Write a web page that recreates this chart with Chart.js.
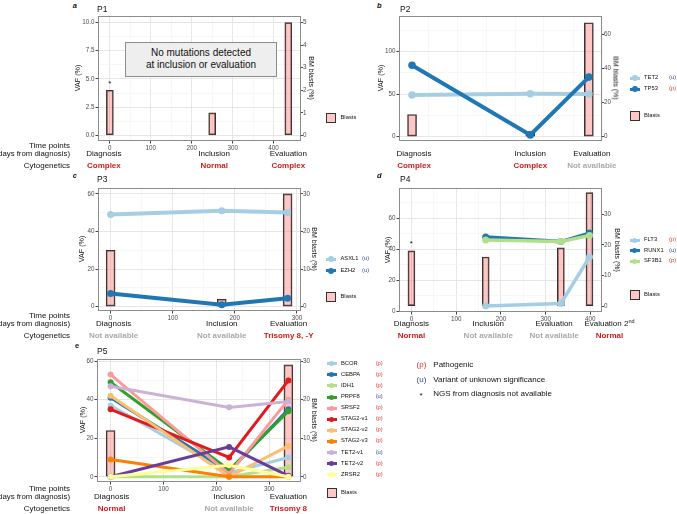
<!DOCTYPE html>
<html>
<head>
<meta charset="utf-8">
<script src="https://cdn.jsdelivr.net/npm/chart.js@4.4.1/dist/chart.umd.min.js"></script>
<style>
  html, body { margin: 0; padding: 0; background: #fff; }
  #fig { position: relative; width: 677px; height: 514px; overflow: hidden; font-family: "Liberation Sans", Arial, Helvetica, sans-serif; color: #111; }
  #fig canvas { position: absolute; }
  .t { position: absolute; white-space: nowrap; line-height: 1; }
  .sym { position: absolute; }
</style>
</head>
<body>
<div id="fig"></div>
<script>
// ---- data ----
const palette = ['#a6cee3', '#1f78b4', '#b2df8a', '#33a02c', '#fb9a99', '#e31a1c', '#fdbf6f', '#ff7f00', '#cab2d6', '#6a3d9a', '#ffff99'];

// P1
const p1Days = [0, 250, 436];
const p1TimePoints = ['Diagnosis', 'Inclusion', 'Evaluation'];
const p1Cyto = ['Complex', 'Normal', 'Complex'];
const p1Blasts = [2, 1, 5];

// P2
const p2Days = [0, 204, 305];
const p2TimePoints = ['Diagnosis', 'Inclusion', 'Evaluation'];
const p2Cyto = ['Complex', 'Complex', 'Not available'];
const p2Blasts = [13, 3, 67];
const p2Genes = ['TET2', 'TP53'];
const p2Codes = ['u', 'p'];
const p2TET2 = [49, 50.5, 50];
const p2TP53 = [84, 2, 70];

// P3
const p3Days = [0, 179, 285];
const p3TimePoints = ['Diagnosis', 'Inclusion', 'Evaluation'];
const p3Cyto = ['Not available', 'Not available', 'Trisomy 8, -Y'];
const p3Blasts = [15, 2, 30];
const p3Genes = ['ASXL1', 'EZH2'];
const p3Codes = ['u', 'u'];
const p3ASXL1 = [49, 51, 50];
const p3EZH2 = [7, 1, 4.5];

// P4
const p4Days = [0, 166, 334, 398];
const p4TimePoints = ['Diagnosis', 'Inclusion', 'Evaluation', 'Evaluation 2nd'];
const p4Cyto = ['Normal', 'Not available', 'Not available', 'Normal'];
const p4Blasts = [18, 16, 19, 37];
const p4Genes = ['FLT3', 'RUNX1', 'SF3B1'];
const p4Codes = ['p', 'u', 'p'];
const p4FLT3 = [null, 3.3, 5, 35];
const p4RUNX1 = [null, 48, 45, 50.5];
const p4SF3B1 = [null, 46, 45, 49];

// P5
const p5Days = [0, 224, 336];
const p5TimePoints = ['Diagnosis', 'Inclusion', 'Evaluation'];
const p5Cyto = ['Normal', 'Not available', 'Trisomy 8'];
const p5Blasts = [12, null, 29];
const p5Genes = ['BCOR', 'CEBPA', 'IDH1', 'PRPF8', 'SRSF2', 'STAG2-v1', 'STAG2-v2', 'STAG2-v3', 'TET2-v1', 'TET2-v2', 'ZRSR2'];
const p5Codes = ['p', 'p', 'p', 'u', 'p', 'p', 'p', 'p', 'u', 'p', 'p'];
const p5BCOR = [37, 2, 10];
const p5CEBPA = [41, 2.7, 35];
const p5IDH1 = [0, 0, 5];
const p5PRPF8 = [49, 3.5, 34];
const p5SRSF2 = [53, 1.5, 40];
const p5STAG2v1 = [35, 10, 50];
const p5STAG2v2 = [42, 0, 16];
const p5STAG2v3 = [9, 0, 0];
const p5TET2v1 = [47, 36, 39];
const p5TET2v2 = [0, 15.5, 0.5];
const p5ZRSR2 = [0, 6, 0];

const notes = [['(p)', 'Pathogenic'], ['(u)', 'Variant of unknown significance'], ['*', 'NGS from diagnosis not available']];

// ---- panels: data + layout ----
const panels = [
  { letter: 'a', title: 'P1', days: p1Days, points: p1TimePoints, cyto: p1Cyto, blasts: p1Blasts, genes: [], codes: [], vaf: [], star: 0,
    box: [98, 15, 301, 141], xr: [-29, 467], yr: [-0.5, 10.6], y2r: [-0.25, 5.3], yStep: 1.25, yMajor: 2.5, y2Step: 1, dec: 1,
    barW: 7, lineW: 4, ptR: 3.5, tpY: 154, header: true, legX: 326, legY: 0, legStep: 11, blastY: 113.3, codeX: 0,
    vafX: 78.3, bmX: 310.8, letterPos: [72.7, 5.5], titlePos: [97, 8.5], nudge: [-6, 2, 0] },
  { letter: 'b', title: 'P2', days: p2Days, points: p2TimePoints, cyto: p2Cyto, blasts: p2Blasts, genes: p2Genes, codes: p2Codes, vaf: [p2TET2, p2TP53], star: null,
    box: [399, 15, 602, 141], xr: [-22.5, 327.7], yr: [-5.2, 142.2], y2r: [-2.6, 71.1], yStep: 25, yMajor: 50, y2Step: 20, dec: 0,
    barW: 9, lineW: 4, ptR: 3.8, tpY: 154, header: false, legX: 629.5, legY: 78.3, legStep: 11, blastY: 110.5, codeX: 669,
    vafX: 381, bmX: 615.8, letterPos: [377, 5.5], titlePos: [400, 8.5], nudge: [2, 0, 3] },
  { letter: 'c', title: 'P3', days: p3Days, points: p3TimePoints, cyto: p3Cyto, blasts: p3Blasts, genes: p3Genes, codes: p3Codes, vaf: [p3ASXL1, p3EZH2], star: null,
    box: [98, 187, 301, 311], xr: [-20.3, 306.6], yr: [-2.3, 63.2], y2r: [-1.15, 31.6], yStep: 10, yMajor: 20, y2Step: 10, dec: 0,
    barW: 9, lineW: 4, ptR: 3.5, tpY: 324, header: true, legX: 326, legY: 259.3, legStep: 11.4, blastY: 292, codeX: 362,
    vafX: 81.7, bmX: 314, letterPos: [72.7, 175.5], titlePos: [97, 179], nudge: [3, 0, 1] },
  { letter: 'd', title: 'P4', days: p4Days, points: p4TimePoints, cyto: p4Cyto, blasts: p4Blasts, genes: p4Genes, codes: p4Codes, vaf: [p4FLT3, p4RUNX1, p4SF3B1], star: 0,
    box: [399, 187, 602, 312], xr: [-27.8, 426], yr: [-0.5, 79.8], y2r: [-1.94, 38.6], yStep: 10, yMajor: 20, y2Step: 10, dec: 0,
    barW: 7, lineW: 3.5, ptR: 3.5, tpY: 324, header: false, legX: 629.5, legY: 240, legStep: 10.5, blastY: 289.5, codeX: 669,
    vafX: 388.3, bmX: 617.3, letterPos: [377, 175.5], titlePos: [400, 179], nudge: [0, 2.6, -6.7, 20] },
  { letter: 'e', title: 'P5', days: p5Days, points: p5TimePoints, cyto: p5Cyto, blasts: p5Blasts, genes: p5Genes, codes: p5Codes,
    vaf: [p5BCOR, p5CEBPA, p5IDH1, p5PRPF8, p5SRSF2, p5STAG2v1, p5STAG2v2, p5STAG2v3, p5TET2v1, p5TET2v2, p5ZRSR2], star: null,
    box: [97, 358, 301, 482], xr: [-25.7, 359.8], yr: [-2.7, 61.2], y2r: [-1.35, 30.6], yStep: 10, yMajor: 20, y2Step: 10, dec: 0,
    barW: 9, lineW: 3, ptR: 3, tpY: 497, header: true, legX: 326.5, legY: 363.7, legStep: 11.1, blastY: 488.3, codeX: 375.7,
    vafX: 82.7, bmX: 314, letterPos: [75, 346.3], titlePos: [97, 350.7], nudge: [1, 0, 0] }
];

const RED = '#d01c1c', GRAY = '#a9a9a9', PCOL = '#e0342c', UCOL = '#34479a';
const BAR_FILL = 'rgba(248,118,109,0.4)';
const fig = document.getElementById('fig');
Chart.defaults.font.family = '"Liberation Sans", Arial, sans-serif';

function addText(x, y, html, o) {
  o = o || {};
  const d = document.createElement('div');
  d.className = 't';
  d.innerHTML = html;
  d.style.left = x + 'px';
  d.style.top = y + 'px';
  d.style.fontSize = (o.size || 8) + 'px';
  if (o.color) d.style.color = o.color;
  if (o.bold) d.style.fontWeight = 'bold';
  if (o.italic) d.style.fontStyle = 'italic';
  const ax = o.align === 'center' ? -50 : o.align === 'right' ? -100 : 0;
  d.style.transform = 'translate(' + ax + '%, -50%)' + (o.rotate ? ' rotate(' + o.rotate + 'deg)' : '');
  fig.appendChild(d);
  return d;
}

function addBox(x, y, w, h, css) {
  const d = document.createElement('div');
  d.className = 'sym';
  d.style.left = x + 'px'; d.style.top = y + 'px';
  d.style.width = w + 'px'; d.style.height = h + 'px';
  Object.assign(d.style, css);
  fig.appendChild(d);
  return d;
}

// grey frame round the plotting area, drawn on top like a ggplot panel border
const frame = {
  id: 'frame',
  afterDraw(chart) {
    const a = chart.chartArea, ctx = chart.ctx;
    ctx.save();
    ctx.strokeStyle = '#8c8c8c';
    ctx.lineWidth = 1;
    ctx.strokeRect(Math.round(a.left) + 0.5, Math.round(a.top) + 0.5, Math.round(a.right - a.left) - 1, Math.round(a.bottom - a.top) - 1);
    ctx.restore();
  }
};

const isMult = (v, m) => Math.abs(v / m - Math.round(v / m)) < 1e-6;
const tickFont = { size: 6.3 };

function makePanel(p) {
  const [L, T, R, B] = p.box;
  const padL = 24, padR = 18, padT = 4, padB = 12;
  const W = R - L + padL + padR, H = B - T + padT + padB;
  const cv = document.createElement('canvas');
  cv.width = W; cv.height = H;
  cv.style.left = (L - padL) + 'px';
  cv.style.top = (T - padT) + 'px';
  cv.style.width = W + 'px';
  cv.style.height = H + 'px';
  fig.appendChild(cv);

  const datasets = [{
    type: 'bar', label: 'Blasts', yAxisID: 'y2', order: 1,
    data: p.days.map((d, i) => ({ x: d, y: p.blasts[i] })).filter(pt => pt.y != null),
    backgroundColor: BAR_FILL, borderColor: '#333', borderWidth: 1, borderSkipped: false,
    barThickness: p.barW
  }];
  p.genes.forEach((g, i) => {
    const c = palette[i];
    datasets.push({
      type: 'line', label: g, yAxisID: 'y', order: -i,
      data: p.days.map((d, j) => ({ x: d, y: p.vaf[i][j] })).filter(pt => pt.y != null),
      borderColor: c, backgroundColor: c, pointBackgroundColor: c, pointBorderWidth: 0,
      pointRadius: p.ptR, borderWidth: p.lineW, tension: 0
    });
  });

  const chart = new Chart(cv, {
    type: 'bar',
    data: { datasets: datasets },
    plugins: [frame],
    options: {
      responsive: false, animation: false, devicePixelRatio: 1,
      layout: { padding: { top: padT, left: 0, right: 0, bottom: 0 } },
      plugins: { legend: { display: false }, tooltip: { enabled: false } },
      scales: {
        x: {
          type: 'linear', min: p.xr[0], max: p.xr[1], offset: false,
          ticks: { stepSize: 50, includeBounds: false, autoSkip: false, maxRotation: 0, padding: 0.5, color: '#4d4d4d', font: tickFont,
            callback: v => isMult(v, 100) ? String(v) : '' },
          grid: { offset: false, tickLength: 2.5,
            color: c => c.tick && isMult(c.tick.value, 100) ? '#e6e6e6' : '#f3f3f3',
            lineWidth: c => c.tick && isMult(c.tick.value, 100) ? 1 : 0.7,
            tickColor: c => c.tick && isMult(c.tick.value, 100) ? '#444' : 'rgba(0,0,0,0)' },
          border: { display: false },
          afterFit: s => { s.height = padB; }
        },
        y: {
          type: 'linear', position: 'left', min: p.yr[0], max: p.yr[1],
          ticks: { stepSize: p.yStep, includeBounds: false, autoSkip: false, padding: 1, color: '#4d4d4d', font: tickFont,
            callback: v => isMult(v, p.yMajor) ? v.toFixed(p.dec) : '' },
          grid: { tickLength: 2.5,
            color: c => c.tick && isMult(c.tick.value, p.yMajor) ? '#e6e6e6' : '#f3f3f3',
            lineWidth: c => c.tick && isMult(c.tick.value, p.yMajor) ? 1 : 0.7,
            tickColor: c => c.tick && isMult(c.tick.value, p.yMajor) ? '#444' : 'rgba(0,0,0,0)' },
          border: { display: false },
          afterFit: s => { s.width = padL; }
        },
        y2: {
          type: 'linear', position: 'right', min: p.y2r[0], max: p.y2r[1],
          ticks: { stepSize: p.y2Step, includeBounds: false, autoSkip: false, padding: 0, color: '#4d4d4d', font: tickFont },
          grid: { drawOnChartArea: false, tickLength: 2, tickColor: '#444' },
          border: { display: false },
          afterFit: s => { s.width = padR; }
        }
      }
    }
  });

  const ox = L - padL, oy = T - padT;
  const xs = chart.scales.x;

  // panel letter, title, axis titles
  addText(p.letterPos[0], p.letterPos[1], p.letter, { size: 7.5, bold: true, italic: p.letter !== 'e' });
  addText(p.titlePos[0], p.titlePos[1], p.title, { size: 8.5 });
  addText(p.vafX, (T + B) / 2, 'VAF (%)', { size: 7.2, align: 'center', rotate: -90 });
  addText(p.bmX, (T + B) / 2, 'BM blasts (%)', { size: 7, align: 'center', rotate: 90 });

  // time points and cytogenetics rows under the axis
  if (p.header) {
    addText(70, p.tpY - 8, 'Time points', { size: 8, align: 'right' });
    addText(70, p.tpY, '(days from diagnosis)', { size: 7.8, align: 'right' });
    addText(70, p.tpY + 12, 'Cytogenetics', { size: 8, align: 'right' });
  }
  p.points.forEach((name, i) => {
    const px = ox + xs.getPixelForValue(p.days[i]) + (p.nudge[i] || 0);
    const label = name.replace(/ 2nd$/, ' 2<span style="font-size:5.5px;position:relative;top:-3px">nd</span>');
    addText(px, p.tpY, label, { size: 8, align: 'center' });
    addText(px, p.tpY + 12, p.cyto[i], { size: 8, bold: true, align: 'center', color: p.cyto[i] === 'Not available' ? GRAY : RED });
  });

  // NGS not available marker above the diagnosis bar
  if (p.star != null) {
    const sx = ox + xs.getPixelForValue(p.days[p.star]);
    const sy = oy + chart.scales.y2.getPixelForValue(p.blasts[p.star]) - 6.5;
    addText(sx, sy, '*', { size: 8, align: 'center' });
  }

  // legend
  p.genes.forEach((g, i) => {
    const y = p.legY + i * p.legStep;
    const lw = p.lineW >= 4 ? 3.5 : 3, dr = p.lineW >= 4 ? 6 : 5;
    addBox(p.legX, y - lw / 2, 10, lw, { background: palette[i] });
    addBox(p.legX + 5 - dr / 2, y - dr / 2, dr, dr, { background: palette[i], borderRadius: '50%' });
    addText(p.legX + 14.5, y, g, { size: 5.8 });
    addText(p.codeX, y, '(' + p.codes[i] + ')', { size: 5.8, color: p.codes[i] === 'p' ? PCOL : UCOL });
  });
  addBox(p.legX, p.blastY, 10, 10, { background: BAR_FILL, border: '1px solid #333', boxSizing: 'border-box' });
  addText(p.legX + 14.5, p.blastY + 5, 'Blasts', { size: 5.8 });
}

panels.forEach(makePanel);

// message box in panel a
const msg = addBox(125, 41.7, 152, 35.6, { background: '#eeeeee', border: '1px solid #8c8c8c', boxSizing: 'border-box' });
msg.style.display = 'flex';
msg.style.alignItems = 'center';
msg.style.justifyContent = 'center';
msg.style.textAlign = 'center';
msg.style.fontSize = '10px';
msg.style.lineHeight = '12px';
msg.innerHTML = 'No mutations detected<br>at inclusion or evaluation';

// notes
notes.forEach((n, i) => {
  const y = 365 + i * 14.5;
  const col = n[0] === '(p)' ? PCOL : n[0] === '(u)' ? UCOL : '#111';
  addText(n[0] === '*' ? 421 : 421.5, n[0] === '*' ? y + 2 : y, n[0], { size: 8, color: col, align: 'center' });
  addText(433.3, y, n[1], { size: 8 });
});
</script>
</body>
</html>
